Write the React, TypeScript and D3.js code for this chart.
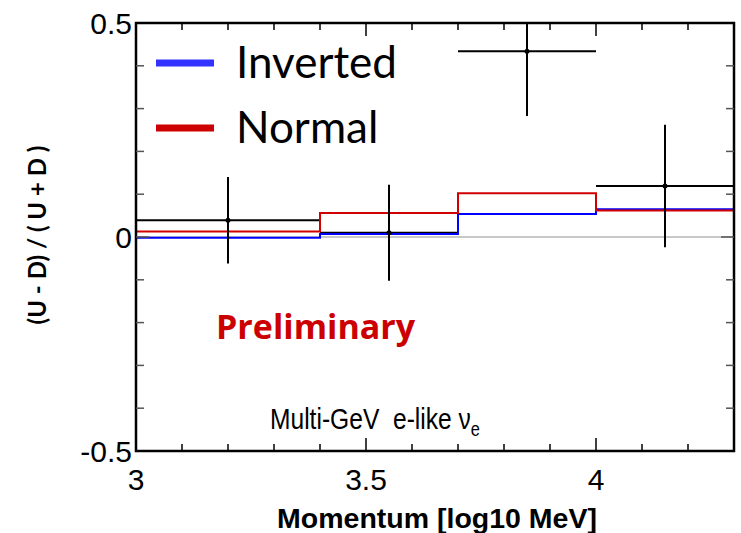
import { useRef, useEffect } from "react";
import * as d3 from "d3";

// bin edges in log10(MeV)
const binEdges = [3.0, 3.4, 3.7, 4.0, 4.3];
const dataX = [3.2, 3.55, 3.85, 4.15];
const dataY = [0.039, 0.010, 0.434, 0.119];
const dataErr = [0.101, 0.112, 0.151, 0.143];
const invertedY = [-0.002, 0.007, 0.054, 0.065];
const normalY = [0.013, 0.056, 0.102, 0.062];
const xTickLabels = [3, 3.5, 4];
const yTickLabels = [-0.5, 0, 0.5];

const W = 741;
const H = 533;
const M = { left: 136, right: 7, top: 23, bottom: 82 };

export default function App() {
  const svgRef = useRef<SVGSVGElement>(null);

  useEffect(() => {
    const svg = d3.select(svgRef.current);
    svg.selectAll("*").remove();

    const x = d3.scaleLinear().domain([3, 4.3]).range([M.left, W - M.right]);
    const y = d3.scaleLinear().domain([-0.5, 0.5]).range([H - M.bottom, M.top]);
    const g = svg.append("g");

    const clipId = "plotclip";
    svg.append("defs").append("clipPath").attr("id", clipId)
      .append("rect")
      .attr("x", x(3)).attr("y", y(0.5))
      .attr("width", x(4.3) - x(3)).attr("height", y(-0.5) - y(0.5));

    // zero line
    g.append("line")
      .attr("x1", x(3)).attr("x2", x(4.3))
      .attr("y1", y(0)).attr("y2", y(0))
      .attr("stroke", "#c8c8c8").attr("stroke-width", 2);

    // histogram step path, starts at the floor like ROOT draws it
    function stepPath(vals: number[]) {
      const pts: [number, number][] = [[x(binEdges[0]), y(-0.5)]];
      vals.forEach((v, i) => {
        pts.push([x(binEdges[i]), y(v)]);
        pts.push([x(binEdges[i + 1]), y(v)]);
      });
      return d3.line()(pts) as string;
    }

    const plot = g.append("g").attr("clip-path", `url(#${clipId})`);

    // data bins (horizontal bars + error bars)
    dataY.forEach((v, i) => {
      plot.append("line")
        .attr("x1", x(binEdges[i])).attr("x2", x(binEdges[i + 1]))
        .attr("y1", y(v)).attr("y2", y(v))
        .attr("stroke", "#000").attr("stroke-width", 2);
    });

    plot.append("path").attr("d", stepPath(invertedY))
      .attr("fill", "none").attr("stroke", "#0000ff").attr("stroke-width", 2);
    plot.append("path").attr("d", stepPath(normalY))
      .attr("fill", "none").attr("stroke", "#d00000").attr("stroke-width", 2);

    dataY.forEach((v, i) => {
      plot.append("line")
        .attr("x1", x(dataX[i])).attr("x2", x(dataX[i]))
        .attr("y1", y(v - dataErr[i])).attr("y2", y(v + dataErr[i]))
        .attr("stroke", "#000").attr("stroke-width", 2);
      plot.append("circle")
        .attr("cx", x(dataX[i])).attr("cy", y(v)).attr("r", 2.5)
        .attr("fill", "#000");
    });

    // frame
    g.append("rect")
      .attr("x", x(3)).attr("y", y(0.5))
      .attr("width", x(4.3) - x(3)).attr("height", y(-0.5) - y(0.5))
      .attr("fill", "none").attr("stroke", "#000").attr("stroke-width", 2.5);

    // ticks (inside, on all four sides)
    const xMinor = d3.range(31, 43).map((d) => d / 10);
    xMinor.forEach((t) => {
      const major = Math.abs(t * 2 - Math.round(t * 2)) < 1e-6;
      const len = major ? 13 : 7;
      [[y(-0.5), -len], [y(0.5), len]].forEach(([y0, dl]) => {
        g.append("line")
          .attr("x1", x(t)).attr("x2", x(t))
          .attr("y1", y0).attr("y2", y0 + dl)
          .attr("stroke", "#000").attr("stroke-width", 1.5);
      });
    });
    const yMinor = d3.range(-4, 5).map((d) => d / 10);
    yMinor.forEach((t) => {
      const len = Math.abs(t) < 1e-6 ? 13 : 8;
      [[x(3), len], [x(4.3), -len]].forEach(([x0, dl]) => {
        g.append("line")
          .attr("x1", x0).attr("x2", x0 + dl)
          .attr("y1", y(t)).attr("y2", y(t))
          .attr("stroke", "#555").attr("stroke-width", 1.5);
      });
    });

    // tick labels
    xTickLabels.forEach((t) => {
      g.append("text")
        .attr("x", x(t)).attr("y", H - M.bottom + 39)
        .attr("text-anchor", "middle")
        .attr("font-family", "Liberation Sans, Arial, sans-serif")
        .attr("font-size", 30)
        .text(String(t));
    });
    yTickLabels.forEach((t) => {
      g.append("text")
        .attr("x", M.left - 4).attr("y", y(t) + 11)
        .attr("text-anchor", "end")
        .attr("font-family", "Liberation Sans, Arial, sans-serif")
        .attr("font-size", 30)
        .text(String(t));
    });

    // axis titles
    g.append("text")
      .attr("x", 437).attr("y", 528)
      .attr("text-anchor", "middle")
      .attr("font-family", "Liberation Sans, Arial, sans-serif")
      .attr("font-weight", "bold")
      .attr("font-size", 28.5)
      .text("Momentum [log10 MeV]");
    g.append("text")
      .attr("transform", `translate(46,${235}) rotate(-90)`)
      .attr("text-anchor", "middle")
      .attr("font-family", "Lato, Open Sans, sans-serif")
      .attr("font-weight", "bold")
      .attr("font-size", 24)
      .text("(U - D) / ( U + D )");

    // legend
    const legend = [
      { label: "Inverted", color: "#3333ff", yy: 63 },
      { label: "Normal", color: "#cc0000", yy: 128 },
    ];
    legend.forEach((l) => {
      g.append("line")
        .attr("x1", 156).attr("x2", 214)
        .attr("y1", l.yy).attr("y2", l.yy)
        .attr("stroke", l.color).attr("stroke-width", 7);
      g.append("text")
        .attr("x", 236).attr("y", l.yy + 15)
        .attr("font-family", "Lato, Open Sans, sans-serif")
        .attr("font-size", 44)
        .text(l.label);
    });

    g.append("text")
      .attr("x", 216).attr("y", 339)
      .attr("font-family", "Open Sans, Lato, sans-serif")
      .attr("font-weight", "bold")
      .attr("font-size", 34)
      .attr("fill", "#cc0000")
      .text("Preliminary");

    // condensed Helvetica-like label, as ROOT rendered it
    const lab = g.append("text")
      .attr("transform", "translate(270,429) scale(0.82,1)")
      .style("white-space", "pre")
      .attr("font-family", "Liberation Sans, Arial, sans-serif")
      .attr("font-size", 30);
    lab.append("tspan").text("Multi-GeV  e-like \u03bd");
    lab.append("tspan").attr("font-size", 20).attr("dy", 7).text("e");
  }, []);

  return (
    <svg ref={svgRef} width={W} height={H}
      style={{ position: "absolute", left: 0, top: 0, background: "#fff" }} />
  );
}
